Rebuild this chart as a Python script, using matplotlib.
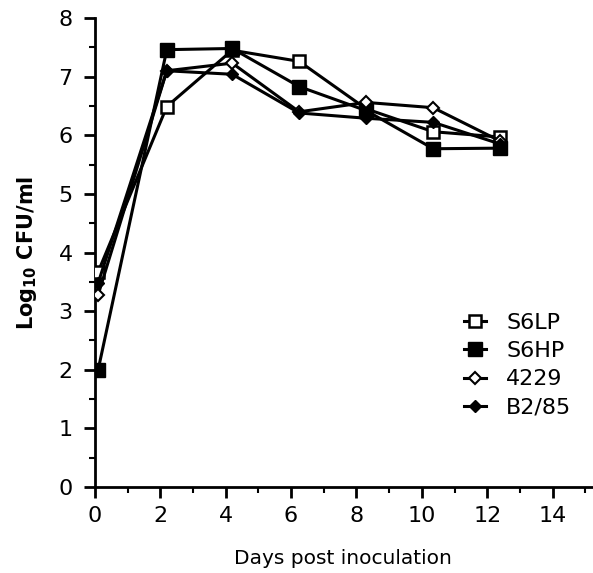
import matplotlib
matplotlib.use("Agg")
import matplotlib.pyplot as plt
from matplotlib.ticker import MultipleLocator

plt.rcParams['font.family'] = ['DejaVu Sans']

# Sampling days as they sit on the printed axis
days = [0.1, 2.2, 4.2, 6.25, 8.3, 10.35, 12.4]

s6lp = [3.67, 6.49, 7.45, 7.26, 6.45, 6.06, 5.97]
s6hp = [2.0, 7.46, 7.48, 6.83, 6.42, 5.77, 5.78]
i4229 = [3.28, 7.1, 7.23, 6.4, 6.56, 6.47, 5.9]
b285 = [3.48, 7.1, 7.04, 6.38, 6.29, 6.22, 5.85]

fig = plt.figure(figsize=(5.93, 5.73), dpi=100)
ax = fig.add_axes([0.160, 0.150, 0.838, 0.8186])

ax.plot(days, s6lp, '-', color='black', lw=2.2, marker='s', ms=9,
        mfc='white', mec='black', mew=1.8, label='S6LP', zorder=3)
ax.plot(days, s6hp, '-', color='black', lw=2.2, marker='s', ms=10,
        mfc='black', mec='black', label='S6HP', zorder=3)
ax.plot(days, i4229, '-', color='black', lw=2.2, marker='D', ms=6,
        mfc='white', mec='black', mew=1.5, label='4229', zorder=4)
ax.plot(days, b285, '-', color='black', lw=2.2, marker='D', ms=6,
        mfc='black', mec='black', label='B2/85', zorder=4)

ax.set_xlim(0, 15.2)
ax.set_ylim(0, 8)
ax.spines['top'].set_visible(False)
ax.spines['right'].set_visible(False)
ax.spines['left'].set_linewidth(2)
ax.spines['bottom'].set_linewidth(2)

ax.xaxis.set_major_locator(MultipleLocator(2))
ax.xaxis.set_minor_locator(MultipleLocator(1))
ax.yaxis.set_major_locator(MultipleLocator(1))
ax.yaxis.set_minor_locator(MultipleLocator(0.5))
ax.set_xticks([0, 2, 4, 6, 8, 10, 12, 14])
ax.tick_params(which='major', direction='out', length=8, width=2,
               labelsize=16, pad=6)
ax.tick_params(which='minor', direction='out', length=4, width=1.5)
ax.tick_params(axis='y', which='major', pad=8)

ax.set_xlabel('Days post inoculation', fontsize=14.5, labelpad=16)
ax.set_ylabel(r'Log$_{\mathbf{10}}$ CFU/ml', fontsize=15, fontweight='bold',
              labelpad=14)

ax.legend(loc='upper left', bbox_to_anchor=(0.725, 0.391), frameon=False,
          fontsize=16, handlelength=1.0, handletextpad=0.9, labelspacing=0.38,
          borderaxespad=0)

fig.savefig('out.png', dpi=100)
